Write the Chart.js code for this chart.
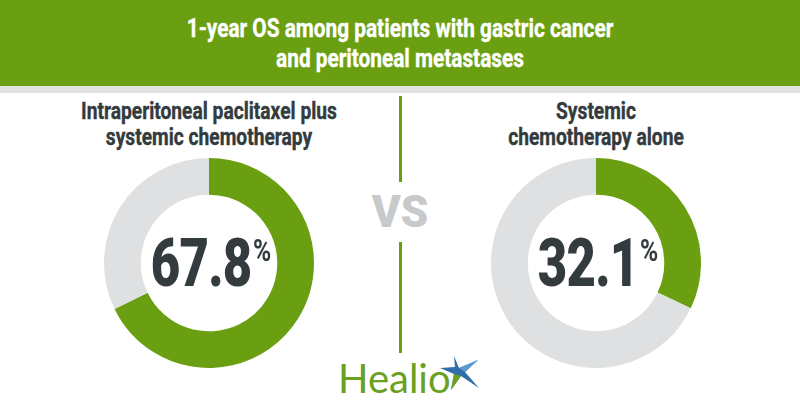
<!DOCTYPE html>
<html>
<head>
<meta charset="utf-8">
<script src="https://cdn.jsdelivr.net/npm/chart.js@4.4.1/dist/chart.umd.min.js"></script>
<style>
  html, body { margin: 0; padding: 0; }
  body { width: 800px; height: 420px; position: relative; background: #ffffff; overflow: hidden;
         font-family: Roboto, "Noto Sans", sans-serif; }
  #header { position: absolute; left: 0; top: 0; width: 800px; height: 86px; background: #6b9f12; }
  #band { position: absolute; left: 0; top: 86px; width: 800px; height: 7px; background: #e2e2e2; }
  .sx { position: absolute; text-align: center; white-space: nowrap; }
  #title { left: 0; width: 800px; top: 13px; color: #ffffff; font-weight: 700; font-size: 26px; line-height: 30px;
           transform: scaleX(0.8); -webkit-text-stroke: 0.4px #ffffff; }
  .heading { color: #333b3e; font-weight: 700; font-size: 24px; line-height: 26px; width: 400px; top: 98px;
             transform: scaleX(0.8); -webkit-text-stroke: 0.4px #333b3e; }
  .num { color: #333b3e; font-weight: 900; font-size: 66px; line-height: 66px; width: 300px; top: 231px;
         letter-spacing: -1px; transform: scaleX(0.77); }
  .num span.pct { display: inline-block; font-weight: 700; font-size: 32px; line-height: 30px; vertical-align: top;
                  margin-top: 4px; margin-left: 2px; letter-spacing: 0; }
  #vs { left: 300px; width: 200px; top: 187px; color: #c8c9ca; font-weight: 900; font-size: 44px; line-height: 50px; }
  .vline { position: absolute; left: 399px; width: 3px; background: #6b9f12; }
  canvas { position: absolute; }
  #logo { position: absolute; left: 338px; top: 356px; color: #6aa121; font-family: Lato, "Open Sans", sans-serif;
          font-size: 40px; line-height: 44px; }
  #star { position: absolute; left: 438px; top: 354px; }
</style>
</head>
<body>
<div id="header"></div>
<div id="band"></div>
<div id="title" class="sx">1-year OS among patients with gastric cancer<br>and peritoneal metastases</div>
<div id="h0" class="sx heading"></div>
<div id="h1" class="sx heading"></div>
<div class="vline" style="top:96px;height:86px"></div>
<div class="vline" style="top:242px;height:111px"></div>
<div id="vs" class="sx">VS</div>
<canvas id="c0" width="210" height="210" style="left:104px;top:158px"></canvas>
<canvas id="c1" width="210" height="210" style="left:491px;top:158px"></canvas>
<div id="n0" class="sx num"></div>
<div id="n1" class="sx num"></div>
<div id="logo">Healio</div>
<svg id="star" width="42" height="38" viewBox="0 0 42 38">
  <polygon points="16,2 21,14 40,6 27,18 41,34 23,22 13,36 16,20 2,14 17,13" fill="#2f6ea8"/>
  <polygon points="16,20 23,22 13,36" fill="#6aa121"/>
  <polygon points="21,14 40,6 27,18" fill="#5b9bd0"/>
</svg>
<script>
// ---- data ----
const groupLines = [
  ["Intraperitoneal paclitaxel plus", "systemic chemotherapy"],
  ["Systemic", "chemotherapy alone"]
];
const osRates = [67.8, 32.1];          // 1-year OS (%)
const centerX = [209, 596];            // layout centres (px)
const green = "#6a9f12";
const grey = "#dfe0e1";

groupLines.forEach((lines, i) => {
  const h = document.getElementById("h" + i);
  h.innerHTML = lines.join("<br>");
  h.style.left = (centerX[i] - 200) + "px";
  const n = document.getElementById("n" + i);
  n.innerHTML = osRates[i].toFixed(1) + '<span class="pct">%</span>';
  n.style.left = (centerX[i] - 150 + 2) + "px";

  new Chart(document.getElementById("c" + i), {
    type: "doughnut",
    data: {
      labels: ["1-year OS", "Remainder"],
      datasets: [{
        data: [osRates[i], 100 - osRates[i]],
        backgroundColor: [green, grey],
        borderWidth: 0,
        hoverOffset: 0
      }]
    },
    options: {
      responsive: false,
      animation: false,
      cutout: "65%",
      layout: { padding: 0 },
      plugins: { legend: { display: false }, tooltip: { enabled: false } },
      events: []
    }
  });
});
</script>
</body>
</html>
